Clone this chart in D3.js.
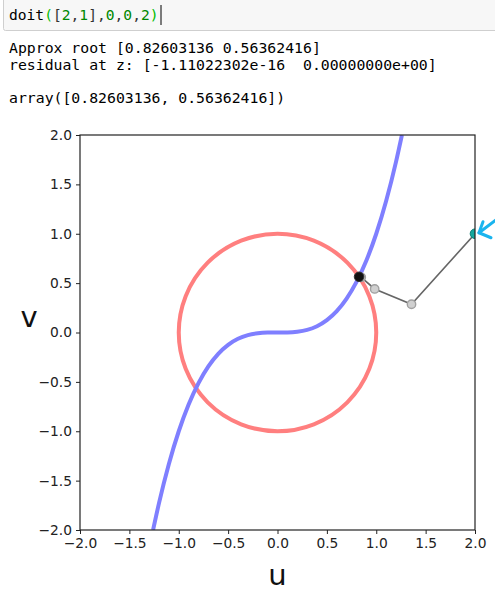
<!DOCTYPE html>
<html>
<head>
<meta charset="UTF-8">
<title>Newton iterates</title>
<script src="https://cdnjs.cloudflare.com/ajax/libs/d3/7.8.5/d3.min.js"></script>
<style>
  body { margin: 0; background: #fff; }
  text { white-space: pre; }
</style>
</head>
<body>
<svg id="chart" width="495" height="597"></svg>
<script>
// notebook text
var codeParts = [["doit", "#000"], ["(", "#0b0"], ["[", "#333"], ["2", "#080"], [",", "#333"], ["1", "#080"],
                 ["]", "#333"], [",", "#333"], ["0", "#080"], [",", "#333"], ["0", "#080"], [",", "#333"],
                 ["2", "#080"], [")", "#0b0"]];
var outLines = ["Approx root [0.82603136 0.56362416]",
                "residual at z: [-1.11022302e-16  0.00000000e+00]",
                "",
                "array([0.82603136, 0.56362416])"];

// curve v = u^3
var curveU = [-1.26, -1.2, -1.1, -1.0, -0.9, -0.8, -0.7, -0.6, -0.5, -0.4, -0.3, -0.2, -0.1, 0,
              0.1, 0.2, 0.3, 0.4, 0.5, 0.6, 0.7, 0.8, 0.9, 1.0, 1.1, 1.2, 1.26];
var curveV = [-2.0, -1.728, -1.331, -1.0, -0.729, -0.512, -0.343, -0.216, -0.125, -0.064, -0.027, -0.008, -0.001, 0,
              0.001, 0.008, 0.027, 0.064, 0.125, 0.216, 0.343, 0.512, 0.729, 1.0, 1.331, 1.728, 2.0];
// unit circle
var circleCenter = [0, 0], circleRadius = 1;
// newton iterates
var iterU = [2.0, 1.357, 0.984, 0.848, 0.826];
var iterV = [1.0, 0.286, 0.441, 0.559, 0.564];
var ticks = [-2.0, -1.5, -1.0, -0.5, 0.0, 0.5, 1.0, 1.5, 2.0];

var svg = d3.select("#chart");
var mono = "'DejaVu Sans Mono', monospace";

// code cell
svg.append("rect").attr("x", 3.5).attr("y", -2).attr("width", 500).attr("height", 32.5)
  .attr("rx", 2).attr("fill", "#f7f7f7").attr("stroke", "#cfcfcf");
var code = svg.append("text").attr("x", 9).attr("y", 20).style("font-family", mono).style("font-size", "14.6px");
codeParts.forEach(function (p) { code.append("tspan").attr("fill", p[1]).text(p[0]); });
svg.append("line").attr("x1", 161).attr("x2", 161).attr("y1", 5).attr("y2", 25).attr("stroke", "#000");

svg.selectAll("text.out").data(outLines).enter().append("text").attr("class", "out")
  .attr("x", 9).attr("y", function (d, i) { return 53 + i * 16.7; })
  .style("font-family", mono).style("font-size", "14.8px").attr("fill", "#000")
  .text(function (d) { return d; });

// plot
var plotL = 80, plotR = 475, plotT = 135, plotB = 530;
var x = d3.scaleLinear().domain([-2, 2]).range([plotL, plotR]);
var y = d3.scaleLinear().domain([-2, 2]).range([plotB, plotT]);
var fmt = function (d) { return d3.format(".1f")(d).replace("-", "\u2212"); };

svg.append("clipPath").attr("id", "clip").append("rect")
  .attr("x", plotL).attr("y", plotT).attr("width", plotR - plotL).attr("height", plotB - plotT);
var plot = svg.append("g").attr("clip-path", "url(#clip)");

plot.append("circle").attr("cx", x(circleCenter[0])).attr("cy", y(circleCenter[1]))
  .attr("r", x(circleRadius) - x(0)).attr("fill", "none").attr("stroke", "#ff7f7f").attr("stroke-width", 4);

var curvePts = curveU.map(function (u, i) { return [u, curveV[i]]; });
plot.append("path").datum(curvePts)
  .attr("d", d3.line().x(function (d) { return x(d[0]); }).y(function (d) { return y(d[1]); }).curve(d3.curveMonotoneX))
  .attr("fill", "none").attr("stroke", "#7f7fff").attr("stroke-width", 4);

var iterPts = iterU.map(function (u, i) { return [u, iterV[i]]; });
plot.append("path").datum(iterPts)
  .attr("d", d3.line().x(function (d) { return x(d[0]); }).y(function (d) { return y(d[1]); }))
  .attr("fill", "none").attr("stroke", "#666").attr("stroke-width", 1.6);
plot.selectAll("circle.it").data(iterPts.slice(1, -1)).enter().append("circle").attr("class", "it")
  .attr("cx", function (d) { return x(d[0]); }).attr("cy", function (d) { return y(d[1]); })
  .attr("r", 4.2).attr("fill", "#d0d0d0").attr("stroke", "#a0a0a0").attr("stroke-width", 1.4);
var last = iterPts[iterPts.length - 1], first = iterPts[0];
plot.append("circle").attr("cx", x(last[0])).attr("cy", y(last[1])).attr("r", 4.8)
  .attr("fill", "#111").attr("stroke", "#333");
plot.append("circle").attr("cx", x(first[0])).attr("cy", y(first[1])).attr("r", 4.8)
  .attr("fill", "#14a89e").attr("stroke", "#0b7f78");

// axes
var font = "'DejaVu Sans', sans-serif";
var gx = svg.append("g").attr("transform", "translate(0," + plotB + ")")
  .call(d3.axisBottom(x).tickValues(ticks).tickFormat(fmt).tickSize(4).tickPadding(4));
var gy = svg.append("g").attr("transform", "translate(" + plotL + ",0)")
  .call(d3.axisLeft(y).tickValues(ticks).tickFormat(fmt).tickSize(4).tickPadding(4));
[gx, gy].forEach(function (g) {
  g.select(".domain").remove();
  g.selectAll("line").attr("stroke", "#222");
  g.selectAll("text").style("font-family", font).style("font-size", "13.8px").attr("fill", "#222");
});
svg.append("rect").attr("x", plotL).attr("y", plotT).attr("width", plotR - plotL).attr("height", plotB - plotT)
  .attr("fill", "none").attr("stroke", "#222").attr("stroke-width", 1.2);

svg.append("text").attr("x", x(0)).attr("y", 585).attr("text-anchor", "middle")
  .style("font-family", font).style("font-size", "29px").attr("fill", "#111").text("u");
svg.append("text").attr("x", 29).attr("y", 327).attr("text-anchor", "middle")
  .style("font-family", font).style("font-size", "29px").attr("fill", "#111").text("v");

// cyan pointer next to the start point
var arrow = svg.append("g").attr("stroke", "#1ab4ee").attr("stroke-width", 3)
  .attr("fill", "none").attr("stroke-linecap", "round").attr("stroke-linejoin", "round");
var tip = [x(first[0]) + 4, y(first[1]) - 1];
arrow.append("path").attr("d", "M" + tip + "L" + [tip[0] + 17, tip[1] - 13]);
arrow.append("path").attr("d", "M" + [tip[0] + 4, tip[1] - 11] + "L" + tip + "L" + [tip[0] + 12, tip[1] + 5]);
</script>
</body>
</html>
